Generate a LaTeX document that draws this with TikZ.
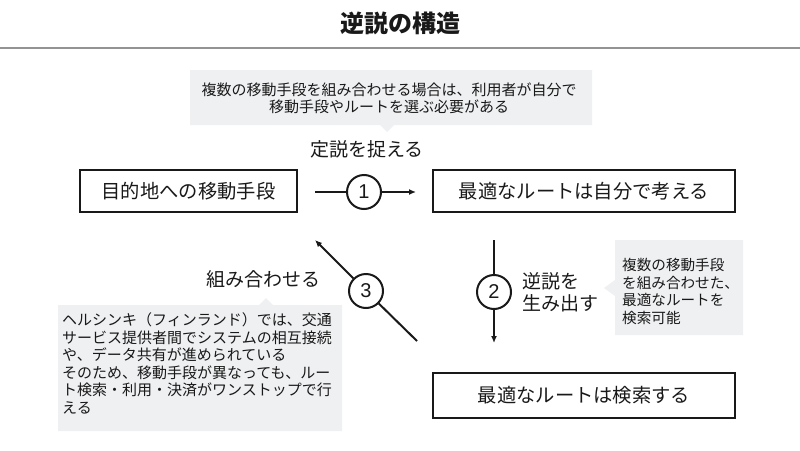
\documentclass[tikz,border=0pt]{standalone}
\usepackage{fontspec}
\newfontfamily\jp{Noto Sans CJK JP}
\newfontfamily\lat{Liberation Sans}
\usetikzlibrary{arrows.meta}
\definecolor{callgray}{RGB}{239,240,242}
\definecolor{ink}{RGB}{25,25,25}
\tikzset{
  mainbox/.style={draw=ink, line width=2.4pt, fill=white, inner sep=0pt,
    font=\jp\fontsize{19.3}{22}\selectfont, text=ink},
  numc/.style={circle, draw=ink, line width=2pt, minimum size=34pt, inner sep=0pt,
    font=\lat\fontsize{20}{22}\selectfont, text=ink, fill=white},
  conn/.style={draw=ink, line width=2pt},
  arr/.style={conn, -{Latex[length=7pt,width=6pt]}},
  callout/.style={fill=callgray, draw=none},
  calltext/.style={inner sep=0pt, text=ink, font=\jp\fontsize{15}{17.5}\selectfont},
  lbl/.style={inner sep=0pt, text=ink, font=\jp\fontsize{19}{22}\selectfont}
}
\begin{document}
\begin{tikzpicture}[x=1pt,y=-1pt]
\useasboundingbox (0,0) rectangle (800,450);
\fill[white] (0,0) rectangle (800,450);
% title
\node[inner sep=0pt, text=ink, font=\jp\bfseries\fontsize{24}{28}\selectfont] (title) at (400,23) {逆説の構造};
\coordinate (hl) at (0,48);
\coordinate (hr) at (800,48);
\draw[gray!85, line width=1.5pt] (hl) -- (hr);
% callouts
\path[callout] (190,70) -- (592,70) -- (592,125) -- (394,125) -- (387,132) -- (380,125) -- (190,125) -- cycle;
\node[calltext, align=center] (ctop) at (389,98.5) {複数の移動手段を組み合わせる場合は、利用者が自分で\\移動手段やルートを選ぶ必要がある};
\path[callout] (615,240) -- (743,240) -- (743,335) -- (615,335) -- (615,296) -- (604,288) -- (615,280) -- cycle;
\node[calltext, align=left, anchor=north west, font=\jp\fontsize{14.6}{17.5}\selectfont] (cright) at (622,258.5) {複数の移動手段\\を組み合わせた、\\最適なルートを\\検索可能};
\path[callout] (58,305) -- (259,305) -- (266,298) -- (273,305) -- (342,305) -- (342,431) -- (58,431) -- cycle;
\node[calltext, align=left, anchor=north west] (cleft) at (62,312.5) {ヘルシンキ（フィンランド）では、交通\\サービス提供者間でシステムの相互接続\\や、データ共有が進められている\\そのため、移動手段が異なっても、ルー\\ト検索・利用・決済がワンストップで行\\える};
% labels
\node[lbl] (l1) at (367,149) {定説を捉える};
\node[lbl] (l3) at (263,279) {組み合わせる};
\node[lbl, align=left, anchor=north west] (l2) at (522,272) {逆説を\\生み出す};
% boxes
\node[mainbox, minimum width=217pt, minimum height=42pt] (b1) at (188.5,191) {目的地への移動手段};
\node[mainbox, minimum width=302pt, minimum height=42pt] (b2) at (584,191) {最適なルートは自分で考える};
\node[mainbox, minimum width=302pt, minimum height=45pt] (b3) at (584,395.5) {最適なルートは検索する};
% connectors
\node[numc] (c1) at (364,192) {1};
\node[numc] (c2) at (494,292) {2};
\node[numc] (c3) at (366,291) {3};
\coordinate (a1s) at (315,192);
\coordinate (a1e) at (416,192);
\coordinate (a2s) at (494,240);
\coordinate (a2e) at (494,343);
\coordinate (a3s) at (417,341);
\coordinate (a3e) at (315,240);
\draw[conn] (a1s) -- (c1);
\draw[arr] (c1) -- (a1e);
\draw[conn] (a2s) -- (c2);
\draw[arr] (c2) -- (a2e);
\draw[conn] (a3s) -- (c3);
\draw[arr] (c3) -- (a3e);
\end{tikzpicture}
\end{document}
